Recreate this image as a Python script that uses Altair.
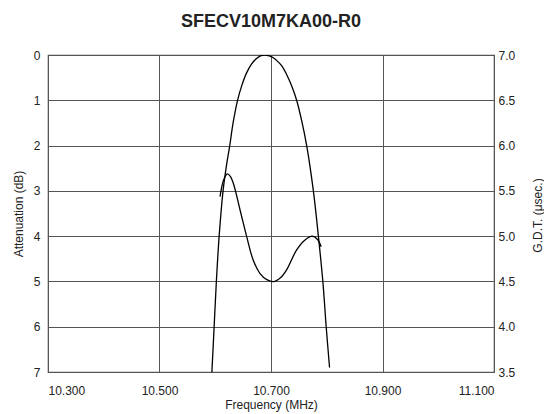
import altair as alt
import pandas as pd

att_freq = [10.594, 10.598, 10.602, 10.607, 10.614, 10.620, 10.626, 10.632, 10.640, 10.648, 10.656,
            10.665, 10.673, 10.681, 10.689, 10.697, 10.704, 10.711, 10.720, 10.728, 10.737, 10.746,
            10.755, 10.764, 10.776, 10.785, 10.793, 10.799, 10.805]
att_db = [7.0, 6.0, 5.0, 4.0, 3.0, 2.45, 2.0, 1.5, 1.0, 0.66, 0.4,
          0.2, 0.09, 0.02, 0.0, 0.02, 0.06, 0.13, 0.25, 0.43, 0.68, 1.0,
          1.45, 2.0, 3.0, 4.0, 5.0, 6.0, 6.9]

gdt_freq = [10.6086, 10.6150, 10.6217, 10.6270, 10.6324, 10.6445, 10.6564, 10.668, 10.680,
            10.6925, 10.7054, 10.717, 10.728, 10.746, 10.761, 10.774, 10.783, 10.790]
gdt_us = [5.436, 5.62, 5.687, 5.66, 5.584, 5.289, 4.995, 4.737, 4.59,
          4.52, 4.498, 4.54, 4.627, 4.848, 4.958, 5.0, 4.966, 4.884]

x_ticks = [10.3, 10.5, 10.7, 10.9, 11.1]
att_ticks = [0, 1, 2, 3, 4, 5, 6, 7]
gdt_ticks = [3.5, 4.0, 4.5, 5.0, 5.5, 6.0, 6.5, 7.0]

att_df = pd.DataFrame({"freq": att_freq, "att": att_db})
gdt_df = pd.DataFrame({"freq": gdt_freq, "gdt": gdt_us})

FONT = "Liberation Sans"

xscale = alt.Scale(domain=[10.3, 11.1], nice=False, zero=False)
xaxis = alt.Axis(values=x_ticks, format=".3f", title="Frequency (MHz)",
                 grid=True, ticks=False, labelPadding=13, titlePadding=3, domain=False)

att = alt.Chart(att_df).mark_line(color="black", strokeWidth=1.3, interpolate="catmull-rom", clip=True).encode(
    x=alt.X("freq:Q", scale=xscale, axis=xaxis),
    y=alt.Y("att:Q", scale=alt.Scale(domain=[0, 7], reverse=True, nice=False),
            axis=alt.Axis(values=att_ticks, title="Attenuation (dB)", grid=True, ticks=False,
                          labelPadding=8, titlePadding=8, domain=False)),
)

gdt = alt.Chart(gdt_df).mark_line(color="black", strokeWidth=1.3, interpolate="catmull-rom", clip=True).encode(
    x=alt.X("freq:Q", scale=xscale, axis=xaxis),
    y=alt.Y("gdt:Q", scale=alt.Scale(domain=[3.5, 7.0], nice=False, zero=False),
            axis=alt.Axis(values=gdt_ticks, format=".1f", title="G.D.T. (μsec.)", orient="right",
                          grid=False, ticks=False, labelPadding=4, domain=False,
                          titleAngle=270, titleX=43, titleY=160, titleAlign="center",
                          titleBaseline="middle")),
)

chart = alt.layer(att, gdt).resolve_scale(y="independent").properties(
    width=446, height=317,
    autosize=alt.AutoSizeParams(type="none"),
    padding={"left": 40, "top": 47, "right": 50, "bottom": 40},
    title=alt.TitleParams("SFECV10M7KA00-R0", fontSize=18, fontWeight="bold", font=FONT,
                          color="#222", offset=18, anchor="middle"),
).configure_view(stroke="#555", strokeWidth=1.2).configure_axis(
    labelFont=FONT, titleFont=FONT, labelFontSize=12, titleFontSize=12,
    labelColor="#222", titleColor="#222", titleFontWeight="normal",
    gridColor="#555", gridWidth=1, gridOpacity=1,
)

chart.save("out.html", embed_options={"renderer": "svg", "actions": False})
